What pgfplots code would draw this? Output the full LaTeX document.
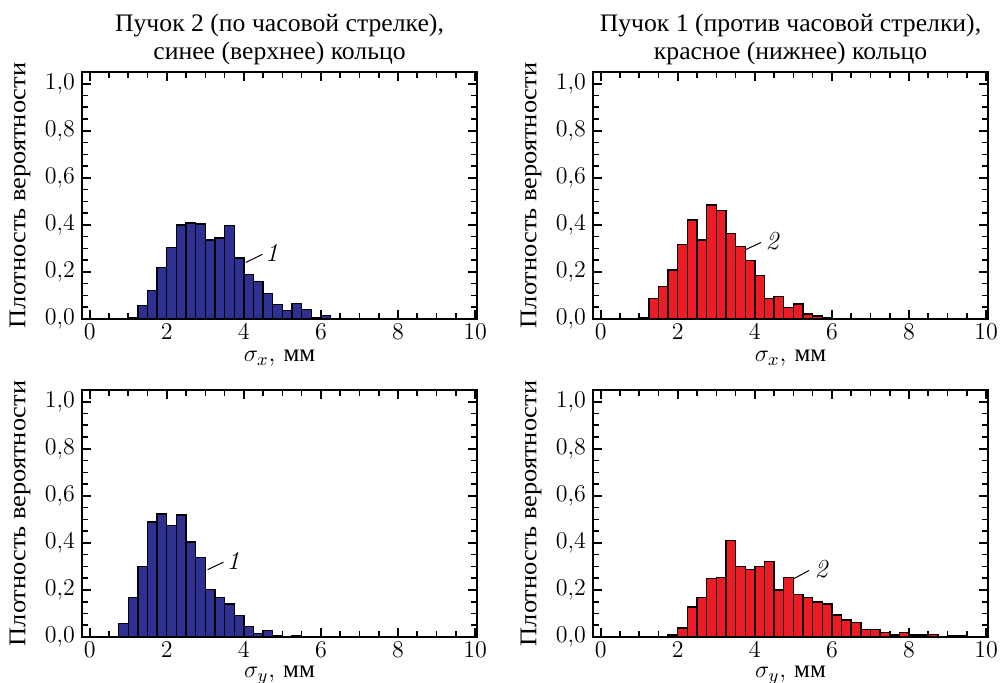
\documentclass[border=0pt]{standalone}
\usepackage[no-math]{fontspec}
\usepackage{pgfplots}
\pgfplotsset{compat=1.18}
\newfontfamily\cyr{Liberation Serif}
\newfontfamily\cyrw{Liberation Serif}[FakeStretch=1.1]
\newfontfamily\cyrt{Liberation Serif}[FakeStretch=1.02]
\definecolor{hblue}{RGB}{46,49,146}
\definecolor{hred}{RGB}{237,28,36}
\pgfplotsset{
  myaxis/.style={
    scale only axis, width=197.5pt, height=123.5pt,
    xmin=-0.2, xmax=10.05, ymin=0, ymax=1.05,
    xtick={0,2,4,6,8,10}, minor x tick num=3,
    ytick={0,0.2,0.4,0.6,0.8,1.0}, minor y tick num=3,
    tick align=inside, xtick pos=both, ytick pos=both,
    xticklabel pos=lower, yticklabel pos=left,
    major tick length=4.5pt, minor tick length=2.8pt,
    axis line style={line width=0.9pt},
    every tick/.style={black, line width=0.8pt},
    tick label style={font=\fontsize{12}{14}\selectfont},
    yticklabel style={/pgf/number format/.cd, fixed, fixed zerofill, precision=1, use comma},
    xticklabel style={inner sep=2.5pt, /pgf/number format/.cd, fixed, precision=0},
    clip=false,
  },
  hist/.style={ybar interval, draw=black, line width=0.7pt, fill=#1},
}
\newcommand{\ylab}{\node[rotate=90, anchor=center, font=\cyrw\fontsize{12}{14}\selectfont] at (rel axis cs:-0.157,0.5) {Плотность вероятности};}
\begin{document}
\begin{tikzpicture}
% top-left
\begin{axis}[myaxis, anchor=south west, at={(41pt,182pt)}]
\addplot[hist=hblue] coordinates {
(1.00,0.007) (1.25,0.057) (1.50,0.120) (1.75,0.220) (2.00,0.304) (2.25,0.400)
(2.50,0.408) (2.75,0.403) (3.00,0.336) (3.25,0.345) (3.50,0.397) (3.75,0.260)
(4.00,0.190) (4.25,0.159) (4.50,0.108) (4.75,0.062) (5.00,0.035) (5.25,0.065)
(5.50,0.040) (5.75,0.006) (6.00,0.016) (6.25,0) (6.50,0) (6.75,0.003) (7.00,0)};
\draw[line width=0.5pt] (axis cs:4.05,0.24) -- (axis cs:4.48,0.275);
\node[font=\fontsize{13}{15}\selectfont] at (axis cs:4.72,0.28) {\itshape 1};
\ylab
\node[anchor=base, font=\cyrt\fontsize{12.6}{15}\selectfont] at (rel axis cs:0.5,1) [yshift=20.15pt] {Пучок 2 (по часовой стрелке),};
\node[anchor=base, font=\cyrt\fontsize{12.6}{15}\selectfont] at (rel axis cs:0.5,1) [yshift=6.35pt] {синее (верхнее) кольцо};
\node[anchor=base, inner sep=1pt, font=\fontsize{12.5}{14}\selectfont] at (rel axis cs:0.5,0) [yshift=-21.3pt] {$\sigma_x$, {\cyr мм}};
\end{axis}
% top-right
\begin{axis}[myaxis, anchor=south west, at={(296.5pt,182pt)}]
\addplot[hist=hred] coordinates {
(1.00,0.004) (1.25,0.087) (1.50,0.138) (1.75,0.209) (2.00,0.316) (2.25,0.420)
(2.50,0.335) (2.75,0.484) (3.00,0.461) (3.25,0.363) (3.50,0.309) (3.75,0.248)
(4.00,0.184) (4.25,0.087) (4.50,0.095) (4.75,0.048) (5.00,0.063) (5.25,0.021)
(5.50,0.013) (5.75,0.005) (6.00,0.003) (6.25,0) (6.50,0) (6.75,0) (7.00,0.002) (7.25,0)};
\draw[line width=0.5pt] (axis cs:3.75,0.294) -- (axis cs:4.16,0.325);
\node[font=\fontsize{13}{15}\selectfont] at (axis cs:4.45,0.33) {\itshape 2};
\ylab
\node[anchor=base, font=\cyrt\fontsize{12.6}{15}\selectfont] at (rel axis cs:0.5,1) [yshift=20.15pt] {Пучок 1 (против часовой стрелки),};
\node[anchor=base, font=\cyrt\fontsize{12.6}{15}\selectfont] at (rel axis cs:0.5,1) [yshift=6.35pt] {красное (нижнее) кольцо};
\node[anchor=base, inner sep=1pt, font=\fontsize{12.5}{14}\selectfont] at (rel axis cs:0.5,0) [yshift=-21.3pt] {$\sigma_x$, {\cyr мм}};
\end{axis}
% bottom-left
\begin{axis}[myaxis, anchor=south west, at={(41pt,23pt)}]
\addplot[hist=hblue] coordinates {
(0.50,0.003) (0.75,0.058) (1.00,0.167) (1.25,0.300) (1.50,0.489) (1.75,0.523)
(2.00,0.474) (2.25,0.519) (2.50,0.403) (2.75,0.339) (3.00,0.202) (3.25,0.167)
(3.50,0.141) (3.75,0.091) (4.00,0.044) (4.25,0.016) (4.50,0.028) (4.75,0.006)
(5.00,0) (5.25,0.004) (5.50,0.003) (5.75,0)};
\draw[line width=0.5pt] (axis cs:3.06,0.286) -- (axis cs:3.47,0.318);
\node[font=\fontsize{13}{15}\selectfont] at (axis cs:3.72,0.325) {\itshape 1};
\ylab
\node[anchor=base, inner sep=1pt, font=\fontsize{12.5}{14}\selectfont] at (rel axis cs:0.5,0) [yshift=-20.3pt] {$\sigma_y$, {\cyr мм}};
\end{axis}
% bottom-right
\begin{axis}[myaxis, anchor=south west, at={(296.5pt,23pt)}]
\addplot[hist=hred] coordinates {
(1.75,0.009) (2.00,0.038) (2.25,0.128) (2.50,0.167) (2.75,0.248) (3.00,0.254)
(3.25,0.409) (3.50,0.300) (3.75,0.288) (4.00,0.300) (4.25,0.322) (4.50,0.200)
(4.75,0.252) (5.00,0.181) (5.25,0.167) (5.50,0.148) (5.75,0.141) (6.00,0.094)
(6.25,0.073) (6.50,0.061) (6.75,0.033) (7.00,0.033) (7.25,0.019) (7.50,0.009)
(7.75,0.019) (8.00,0.009) (8.25,0.009) (8.50,0.011) (8.75,0) (9.00,0.006)
(9.25,0.006) (9.50,0)};
\draw[line width=0.5pt] (axis cs:5.0,0.247) -- (axis cs:5.41,0.283);
\node[font=\fontsize{13}{15}\selectfont] at (axis cs:5.72,0.29) {\itshape 2};
\ylab
\node[anchor=base, inner sep=1pt, font=\fontsize{12.5}{14}\selectfont] at (rel axis cs:0.5,0) [yshift=-20.3pt] {$\sigma_y$, {\cyr мм}};
\end{axis}
\pgfresetboundingbox
\path[use as bounding box] (0,0) rectangle (501.5pt,341.5pt);
\end{tikzpicture}
\end{document}
